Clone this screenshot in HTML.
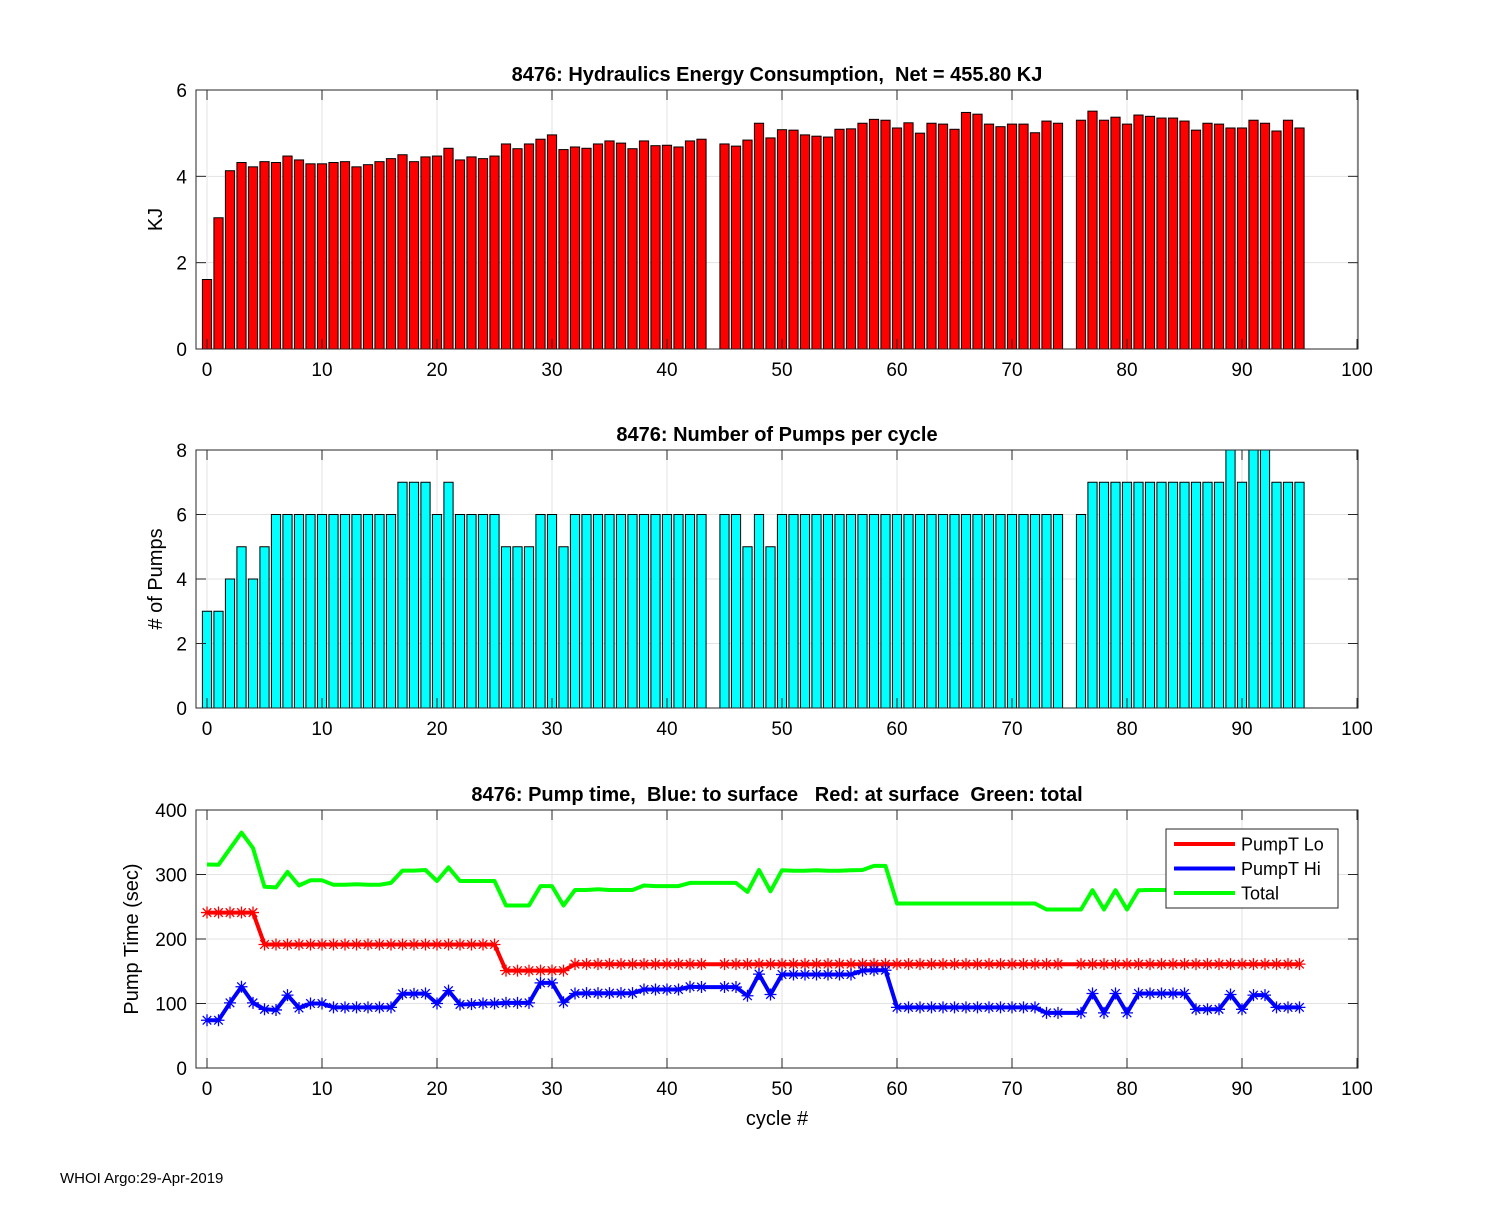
<!DOCTYPE html>
<html><head><meta charset="utf-8"><style>
body{margin:0;background:#fff;width:1500px;height:1200px;overflow:hidden}
svg text{font-family:"Liberation Sans",sans-serif;fill:#000;white-space:pre}
</style></head><body>
<svg id="fig" width="1500" height="1200" xmlns="http://www.w3.org/2000/svg" xml:space="preserve"></svg>
<script>
const cycles=[0,1,2,3,4,5,6,7,8,9,10,11,12,13,14,15,16,17,18,19,20,21,22,23,24,25,26,27,28,29,30,31,32,33,34,35,36,37,38,39,40,41,42,43,45,46,47,48,49,50,51,52,53,54,55,56,57,58,59,60,61,62,63,64,65,66,67,68,69,70,71,72,73,74,76,77,78,79,80,81,82,83,84,85,86,87,88,89,90,91,92,93,94,95];
const energy=[1.61,3.04,4.13,4.32,4.22,4.34,4.32,4.47,4.38,4.29,4.29,4.32,4.34,4.22,4.27,4.34,4.41,4.5,4.34,4.45,4.47,4.65,4.38,4.45,4.41,4.47,4.75,4.64,4.75,4.86,4.96,4.62,4.68,4.65,4.75,4.82,4.77,4.64,4.82,4.71,4.72,4.68,4.82,4.86,4.75,4.70,4.84,5.23,4.89,5.08,5.07,4.96,4.93,4.91,5.09,5.10,5.23,5.32,5.30,5.12,5.24,5.0,5.23,5.21,5.09,5.48,5.44,5.21,5.15,5.21,5.21,5.01,5.28,5.23,5.30,5.51,5.30,5.37,5.21,5.42,5.39,5.35,5.35,5.28,5.07,5.23,5.21,5.12,5.12,5.30,5.23,5.05,5.30,5.12];
const pumps=[3,3,4,5,4,5,6,6,6,6,6,6,6,6,6,6,6,7,7,7,6,7,6,6,6,6,5,5,5,6,6,5,6,6,6,6,6,6,6,6,6,6,6,6,6,6,5,6,5,6,6,6,6,6,6,6,6,6,6,6,6,6,6,6,6,6,6,6,6,6,6,6,6,6,6,7,7,7,7,7,7,7,7,7,7,7,7,8,7,8,8,7,7,7];
const pumpLo=[241,241,241,241,241,191.5,191.5,191.5,191.5,191.5,191.5,191.5,191.5,191.5,191.5,191.5,191.5,191.5,191.5,191.5,191.5,191.5,191.5,191.5,191.5,191.5,151,151,151,151,151,151,161,161,161,161,161,161,161,161,161,161,161,161,161,161,161,161,161,161,161,161,161,161,161,161,161,161,161,161,161,161,161,161,161,161,161,161,161,161,161,161,161,161,161,161,161,161,161,161,161,161,161,161,161,161,161,161,161,161,161,161,161,161];
const pumpHi=[74,74,101,126,101,91,90,113,93,100,100,94,94,94,94,94,94,115,115,115.5,100,120,98.5,99,100,100,101,101,101,132,132,102,115.5,116,116,116,116,116,121.7,121.7,121.7,121.7,126,125.5,125.5,125.5,112,145.5,114,145,145,145,145,145,145,145,151,151.6,151.6,94,94,94,94,94,94,94,94,94,94,94,94,94,85.5,85.5,85.5,115.5,85.5,115.5,85.5,115.5,115.5,115.5,115.5,115.5,91,91,91,114,91,113,113,94,94,94];
const pumpTotal=[315.5,315,340,365,341,281,280,304,283,291,291,284,284,285,284,284,287,306,306,307,290,311,290,290,290,290,252,252,252,282,282,252,276,276,277,276,276,276,283,282,282,282,287,287,287,287,273,307,274,306.7,305.7,305.7,306.7,305.7,305.7,306.7,307,313.4,313.4,255,255,255,255,255,255,255,255,255,255,255,255,255,245.7,245.7,245.7,275.7,245.7,275.7,245.7,275.7,276,276,276,276,252,252,252,275,252,274,274,255,255,255];
const xTicks=[0,10,20,30,40,50,60,70,80,90,100];
const NS='http://www.w3.org/2000/svg';
const svg=document.getElementById('fig');
function el(tag,attrs,parent,txt){const e=document.createElementNS(NS,tag);for(const k in attrs)e.setAttribute(k,attrs[k]);if(txt!==undefined)e.textContent=txt;(parent||svg).appendChild(e);return e;}
const L=196,R=1358;
const xs=c=>207+c*11.5;
function axes(name,top,bot,ymax,ystep,title,ylabel){
  const g=el('g',{});
  
  
  const ys=v=>bot-(v/ymax)*(bot-top);
  el('rect',{x:L,y:top,width:R-L,height:bot-top,fill:'#fff'},g);
  for(const t of xTicks){const x=xs(t);el('line',{x1:x,y1:top,x2:x,y2:bot,stroke:'#e3e3e3','stroke-width':1},g);}
  for(let v=0;v<=ymax;v+=ystep){const y=ys(v);el('line',{x1:L,y1:y,x2:R,y2:y,stroke:'#e3e3e3','stroke-width':1},g);}
  return {g,ys,top,bot,ymax,ystep,title,ylabel};
}
function frame(a,xlabel){
  const g=a.g;
  el('rect',{x:L,y:a.top,width:R-L,height:a.bot-a.top,fill:'none',stroke:'#262626','stroke-width':1},g);
  for(const t of xTicks){const x=xs(t);
    el('line',{x1:x,y1:a.bot,x2:x,y2:a.bot-10,stroke:'#262626'},g);
    el('line',{x1:x,y1:a.top,x2:x,y2:a.top+10,stroke:'#262626'},g);
    const tl=el('text',{x:x,y:a.bot+27,'font-size':19,'text-anchor':'middle'},g,String(t));
    
    }
  for(let v=0;v<=a.ymax;v+=a.ystep){const y=a.ys(v);
    el('line',{x1:L,y1:y,x2:L+10,y2:y,stroke:'#262626'},g);
    el('line',{x1:R,y1:y,x2:R-10,y2:y,stroke:'#262626'},g);
    const tl=el('text',{x:L-9,y:y+7,'font-size':19,'text-anchor':'end'},g,String(v));
    
    }
  const t=el('text',{x:777,y:a.top-9,'font-size':20,'font-weight':'bold','text-anchor':'middle'},g,a.title);
  
  
  const yl=el('text',{x:0,y:0,'font-size':20,'text-anchor':'middle',transform:`translate(${a.ylx},${(a.top+a.bot)/2}) rotate(-90)`},g,a.ylabel);
  
  
  if(xlabel){const xl=el('text',{x:777,y:a.bot+57,'font-size':20,'text-anchor':'middle'},g,xlabel);
    
    }
}
const a1=axes('energy-chart',90,349,6,2,'8476: Hydraulics Energy Consumption,  Net = 455.80 KJ','KJ');a1.ylx=162;
cycles.forEach((c,i)=>{const y=a1.ys(energy[i]);const b=el('rect',{x:xs(c)-4.6,y:y,width:9.2,height:a1.bot-y,fill:'#ff0000',stroke:'#000','stroke-width':1},a1.g);
  
  });
frame(a1);
const a2=axes('pumps-chart',450,708,8,2,'8476: Number of Pumps per cycle','# of Pumps');a2.ylx=162;
cycles.forEach((c,i)=>{const y=a2.ys(pumps[i]);const b=el('rect',{x:xs(c)-4.6,y:y,width:9.2,height:a2.bot-y,fill:'#00ffff',stroke:'#000','stroke-width':1},a2.g);
  
  });
frame(a2);
const a3=axes('pump-time-chart',810,1068,400,100,'8476: Pump time,  Blue: to surface   Red: at surface  Green: total','Pump Time (sec)');a3.ylx=138;
function series(vals,color,name,markers){
  const pts=cycles.map((c,i)=>xs(c).toFixed(1)+','+a3.ys(vals[i]).toFixed(1)).join(' ');
  const p=el('polyline',{points:pts,fill:'none',stroke:color,'stroke-width':4,'stroke-linejoin':'round'},a3.g);
  
  
  if(markers){cycles.forEach((c,i)=>{const x=xs(c),y=a3.ys(vals[i]),s=6,d=4.3;
    const m=el('path',{d:`M${x-s},${y}H${x+s}M${x},${y-s}V${y+s}M${x-d},${y-d}L${x+d},${y+d}M${x-d},${y+d}L${x+d},${y-d}`,stroke:color,'stroke-width':1.3,fill:'none'},a3.g);
    
    });}
}
series(pumpTotal,'#00ff00','total-line',false);
series(pumpLo,'#ff0000','pumpt-lo-line',true);
series(pumpHi,'#0000ff','pumpt-hi-line',true);
frame(a3,'cycle #');
const lg=el('g',{});


el('rect',{x:1166,y:829,width:172,height:79,fill:'#fff',stroke:'#262626','stroke-width':1},lg);
[['PumpT Lo','#ff0000'],['PumpT Hi','#0000ff'],['Total','#00ff00']].forEach((e,i)=>{
  const y=844+i*24.5;
  const ln=el('line',{x1:1174,y1:y,x2:1235,y2:y,stroke:e[1],'stroke-width':4},lg);
  
  
  const t=el('text',{x:1241,y:y+6.5,'font-size':18},lg,e[0]);
  
  
});
const ft=el('text',{x:60,y:1183,'font-size':15},svg,'WHOI Argo:29-Apr-2019');


</script>
</body></html>
